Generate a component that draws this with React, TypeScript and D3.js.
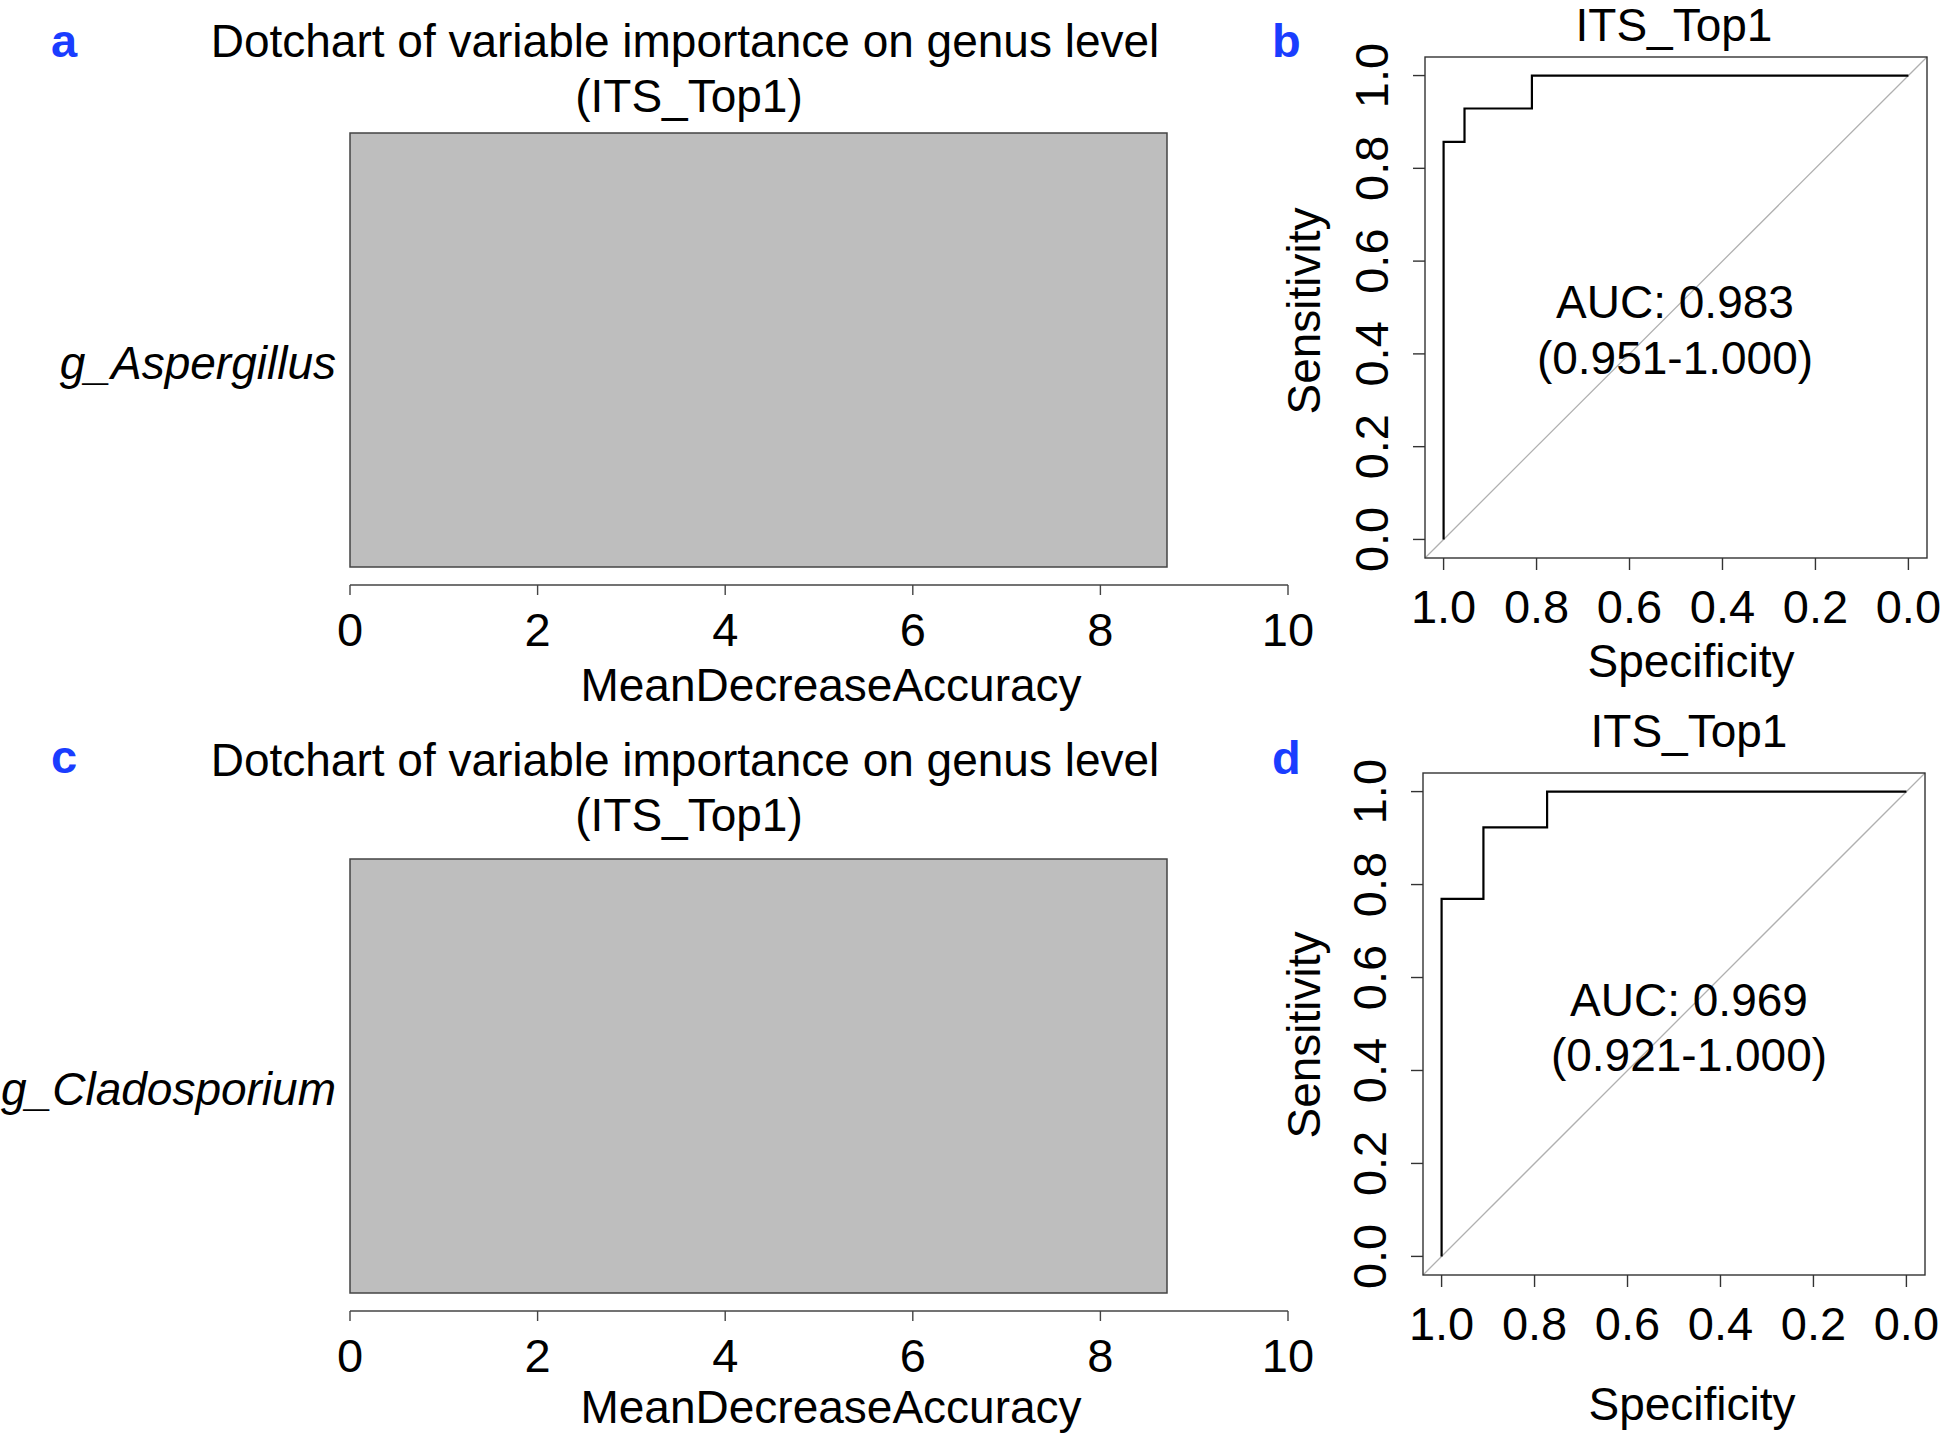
import React from "react";
import * as d3 from "d3";

// ---------- data ----------
const genusA = ["g_Aspergillus"];
const importanceA = [8.71];
const genusC = ["g_Cladosporium"];
const importanceC = [8.71];
const importanceTicks = [0, 2, 4, 6, 8, 10];

const rocBSpec = [1, 1, 0.955, 0.81, 0];
const rocBSens = [0, 0.857, 0.929, 1, 1];
const rocDSpec = [1, 1, 0.91, 0.773, 0];
const rocDSens = [0, 0.769, 0.923, 1, 1];
const rocTicks = [0, 0.2, 0.4, 0.6, 0.8, 1.0];
const aucLinesB = ["AUC: 0.983", "(0.951-1.000)"];
const aucLinesD = ["AUC: 0.969", "(0.921-1.000)"];

const FONT = "'Liberation Sans', Arial, Helvetica, sans-serif";
const FS = 46;
const BLUE = "#1a3dff";

type BarProps = {
  top: number;
  letter: string;
  genus: string[];
  values: number[];
};

function BarPanel({ top, letter, genus, values }: BarProps) {
  const x = d3.scaleLinear().domain([0, 10]).range([350, 1288]);
  const barTop = top + 133;
  const barBottom = top + 567;
  const y = d3.scaleBand<string>().domain(genus).range([barTop, barBottom]).padding(0);
  const axisY = barBottom + 18;
  const titleOff = letter === "c" ? -7 : 0;
  const labelY = letter === "c" ? Math.min(axisY + 116, 1423) : axisY + 116;
  return (
    <g fontFamily={FONT}>
      <text x={51} y={top + 57 + (letter === "c" ? -10 : 0)} fontSize={47} fontWeight="bold" fill={BLUE}>
        {letter}
      </text>
      <text x={685} y={top + 57 + titleOff} fontSize={FS} textAnchor="middle">
        Dotchart of variable importance on genus level
      </text>
      <text x={689} y={top + 112 + titleOff} fontSize={FS} textAnchor="middle">
        (ITS_Top1)
      </text>
      {genus.map((g, i) => (
        <g key={g}>
          <rect
            x={x(0)}
            y={y(g)!}
            width={x(values[i]) - x(0)}
            height={y.bandwidth()}
            fill="#bebebe"
            stroke="#444"
            strokeWidth={1.5}
          />
          <text
            x={336}
            y={y(g)! + y.bandwidth() / 2 + 29}
            fontSize={FS}
            fontStyle="italic"
            textAnchor="end"
          >
            {g}
          </text>
        </g>
      ))}
      <line x1={x(0)} x2={x(10)} y1={axisY} y2={axisY} stroke="#444" strokeWidth={1.4} />
      {importanceTicks.map((t) => (
        <g key={t}>
          <line x1={x(t)} x2={x(t)} y1={axisY} y2={axisY + 10} stroke="#444" strokeWidth={1.4} />
          <text x={x(t)} y={axisY + 61} fontSize={47} textAnchor="middle">
            {t}
          </text>
        </g>
      ))}
      <text x={831} y={labelY} fontSize={FS} textAnchor="middle">
        MeanDecreaseAccuracy
      </text>
    </g>
  );
}

type RocProps = {
  box: { x0: number; x1: number; y0: number; y1: number };
  letter: string;
  letterY: number;
  titleX: number;
  titleY: number;
  spec: number[];
  sens: number[];
  auc: string[];
  aucX: number;
  aucY: number[];
  specX: number;
  specY: number;
  sensY: number;
};

function RocPanel(p: RocProps) {
  const { box } = p;
  const x = d3.scaleLinear().domain([1.04, -0.04]).range([box.x0, box.x1]);
  const y = d3.scaleLinear().domain([-0.04, 1.04]).range([box.y1, box.y0]);
  const pts: [number, number][] = p.spec.map((s, i) => [s, p.sens[i]]);
  const line = d3
    .line<[number, number]>()
    .x((d) => x(d[0]))
    .y((d) => y(d[1]))
    .curve(d3.curveStepAfter);
  return (
    <g fontFamily={FONT}>
      <text x={1272} y={p.letterY} fontSize={47} fontWeight="bold" fill={BLUE}>
        {p.letter}
      </text>
      <text x={p.titleX} y={p.titleY} fontSize={FS} textAnchor="middle">
        ITS_Top1
      </text>
      <line
        x1={x(1.04)}
        y1={y(-0.04)}
        x2={x(-0.04)}
        y2={y(1.04)}
        stroke="#b0b0b0"
        strokeWidth={1.3}
      />
      <path d={line(pts)!} fill="none" stroke="#000" strokeWidth={2.2} />
      <rect
        x={box.x0}
        y={box.y0}
        width={box.x1 - box.x0}
        height={box.y1 - box.y0}
        fill="none"
        stroke="#333"
        strokeWidth={1.4}
      />
      {rocTicks.map((t) => (
        <g key={"y" + t}>
          <line x1={box.x0 - 12} x2={box.x0} y1={y(t)} y2={y(t)} stroke="#333" strokeWidth={1.4} />
          <text
            transform={`translate(${box.x0 - 37},${y(t)}) rotate(-90)`}
            fontSize={47}
            textAnchor="middle"
          >
            {t.toFixed(1)}
          </text>
        </g>
      ))}
      {rocTicks.map((t) => (
        <g key={"x" + t}>
          <line x1={x(t)} x2={x(t)} y1={box.y1} y2={box.y1 + 12} stroke="#333" strokeWidth={1.4} />
          <text x={x(t)} y={box.y1 + 65} fontSize={47} textAnchor="middle">
            {t.toFixed(1)}
          </text>
        </g>
      ))}
      {p.auc.map((s, i) => (
        <text key={s} x={p.aucX} y={p.aucY[i]} fontSize={FS} textAnchor="middle">
          {s}
        </text>
      ))}
      <text x={p.specX} y={p.specY} fontSize={FS} textAnchor="middle">
        Specificity
      </text>
      <text
        transform={`translate(1320,${p.sensY}) rotate(-90)`}
        fontSize={FS}
        textAnchor="middle"
      >
        Sensitivity
      </text>
    </g>
  );
}

export default function App() {
  return (
    <svg
      width={1944}
      height={1435}
      viewBox="0 0 1944 1435"
      style={{ position: "absolute", left: 0, top: 0, background: "#fff" }}
    >
      <rect x={0} y={0} width={1944} height={1435} fill="#fff" />
      <BarPanel top={0} letter="a" genus={genusA} values={importanceA} />
      <BarPanel top={726} letter="c" genus={genusC} values={importanceC} />
      <RocPanel
        box={{ x0: 1425, x1: 1927, y0: 57, y1: 558 }}
        letter="b"
        letterY={57}
        titleX={1674}
        titleY={41}
        spec={rocBSpec}
        sens={rocBSens}
        auc={aucLinesB}
        aucX={1675}
        aucY={[318, 374]}
        specX={1691}
        specY={677}
        sensY={311}
      />
      <RocPanel
        box={{ x0: 1423, x1: 1925, y0: 773, y1: 1275 }}
        letter="d"
        letterY={774}
        titleX={1689}
        titleY={747}
        spec={rocDSpec}
        sens={rocDSens}
        auc={aucLinesD}
        aucX={1689}
        aucY={[1016, 1071]}
        specX={1692}
        specY={1420}
        sensY={1035}
      />
    </svg>
  );
}
